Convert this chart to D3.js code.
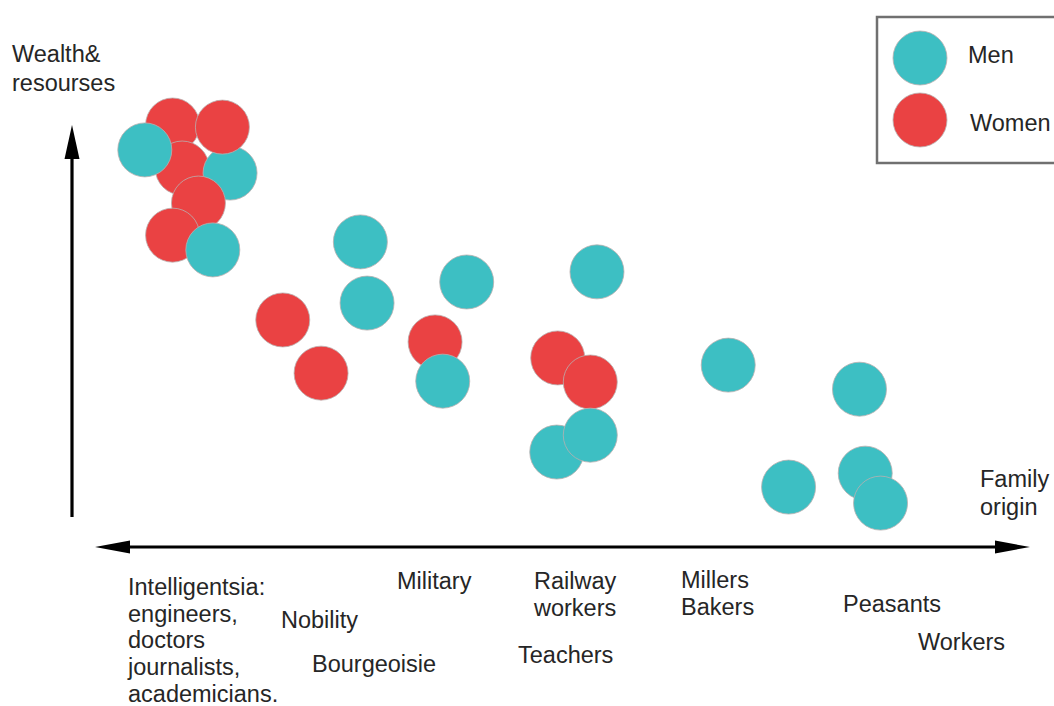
<!DOCTYPE html>
<html>
<head>
<meta charset="utf-8">
<script src="https://cdn.jsdelivr.net/npm/d3@7"></script>
<style>
  html, body { margin: 0; padding: 0; background: #fff; }
  svg { display: block; }
  text { font-family: "Liberation Sans", Arial, sans-serif; fill: #262626; }
</style>
</head>
<body>
<svg width="1054" height="706"></svg>
<script>
// Data: family origin (x, 0-100) and wealth (y, 0-100), in draw order
const origin = [10.5, 11.5, 7.6, 16.5, 15.7, 13.2, 10.5, 14.7,
                30.1, 30.8, 22.0, 26.0, 41.2, 37.9, 38.7,
                54.8, 50.7, 54.1, 50.6, 54.1,
                68.5, 82.2, 74.8, 82.8, 84.4];
const wealth = [100.0, 89.8, 94.1, 88.6, 99.5, 81.5, 73.9, 70.4,
                72.3, 57.8, 53.8, 41.2, 62.8, 48.6, 39.3,
                65.2, 44.8, 39.1, 22.5, 26.5,
                43.1, 37.4, 14.2, 17.5, 10.4];
const gender = ["W", "W", "M", "M", "W", "W", "W", "M",
                "M", "M", "W", "W", "M", "W", "M",
                "M", "W", "W", "M", "M",
                "M", "M", "M", "M", "M"];

const legendKeys = ["M", "W"];
const legendNames = ["Men", "Women"];

// Category labels along the origin axis (multi-line)
const categories = [
    ["Intelligentsia:", "engineers,", "doctors", "journalists,", "academicians."],
    ["Nobility"],
    ["Bourgeoisie"],
    ["Military"],
    ["Railway", "workers"],
    ["Teachers"],
    ["Millers", "Bakers"],
    ["Peasants"],
    ["Workers"]
];
const yTitle = ["Wealth&", "resourses"];
const xTitle = ["Family", "origin"];

// layout
const catPos = [[128, 595], [281, 628], [312, 672], [397, 589], [534, 589],
                [518, 663], [681, 588], [843, 612], [918, 650]];
const lineH = 26.7;

const svg = d3.select("svg");
const colour = d3.scaleOrdinal().domain(["M", "W"]).range(["#3dbfc3", "#ea4243"]);
const x = d3.scaleLinear().domain([0, 100]).range([72, 1030]);
const y = d3.scaleLinear().domain([0, 100]).range([547, 125]);
const r = 27;

// axes as arrows
svg.append("line").attr("x1", 72).attr("y1", 517).attr("x2", 72).attr("y2", 150)
    .attr("stroke", "#000").attr("stroke-width", 3.2);
svg.append("path").attr("d", "M72,125 L79.5,159 L64.5,159 Z").attr("fill", "#000");

svg.append("line").attr("x1", 120).attr("y1", 547).attr("x2", 1005).attr("y2", 547)
    .attr("stroke", "#000").attr("stroke-width", 3.2);
svg.append("path").attr("d", "M95,547 L130,540.5 L130,553.5 Z").attr("fill", "#000");
svg.append("path").attr("d", "M1030,547 L995,540.5 L995,553.5 Z").attr("fill", "#000");

// points
const pts = origin.map((d, i) => ({ o: d, w: wealth[i], g: gender[i] }));
svg.append("g").selectAll("circle")
    .data(pts)
    .join("circle")
    .attr("cx", d => x(d.o))
    .attr("cy", d => y(d.w))
    .attr("r", r)
    .attr("fill", d => colour(d.g))
    .attr("stroke", "#b9b0b0")
    .attr("stroke-width", 0.8);

// axis titles
const fs = 23.5;
svg.append("text").attr("x", 12).attr("font-size", fs)
    .selectAll("tspan").data(yTitle).join("tspan")
    .attr("x", 12).attr("y", (d, i) => 62 + i * 29).text(d => d);
svg.append("text").attr("font-size", fs)
    .selectAll("tspan").data(xTitle).join("tspan")
    .attr("x", 980).attr("y", (d, i) => 487 + i * 28).text(d => d);

// category labels
categories.forEach((lines, k) => {
    svg.append("text").attr("font-size", fs)
        .selectAll("tspan").data(lines).join("tspan")
        .attr("x", catPos[k][0])
        .attr("y", (d, i) => catPos[k][1] + i * lineH)
        .text(d => d);
});

// legend
const lg = svg.append("g");
lg.append("rect").attr("x", 877).attr("y", 17).attr("width", 220).attr("height", 146)
    .attr("fill", "#fff").attr("stroke", "#707070").attr("stroke-width", 2.5);
lg.selectAll("circle").data(legendKeys).join("circle")
    .attr("cx", 920).attr("cy", (d, i) => 58 + i * 62).attr("r", r)
    .attr("fill", d => colour(d)).attr("stroke", "#b9b0b0").attr("stroke-width", 0.8);
lg.selectAll("text").data(legendNames).join("text")
    .attr("x", (d, i) => 968 + i * 2).attr("y", (d, i) => 63 + i * 68)
    .attr("font-size", fs).text(d => d);
</script>
</body>
</html>
